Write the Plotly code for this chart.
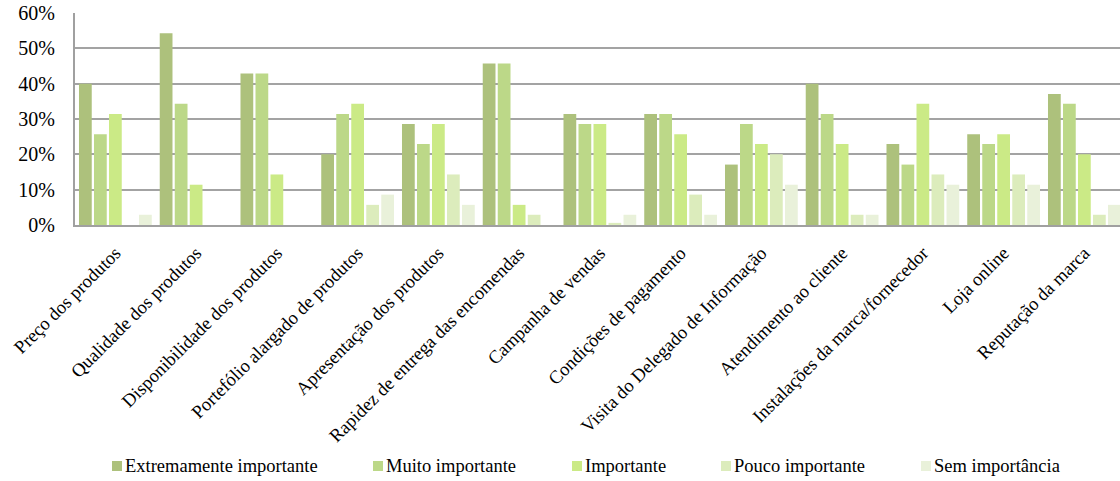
import plotly.graph_objects as go

# Survey: importance of each factor (percentage of respondents)
categories = [
    "Preço dos produtos",
    "Qualidade dos produtos",
    "Disponibilidade dos produtos",
    "Portefólio alargado de produtos",
    "Apresentação dos produtos",
    "Rapidez de entrega das encomendas",
    "Campanha de vendas",
    "Condições de pagamento",
    "Visita do Delegado de Informação",
    "Atendimento ao cliente",
    "Instalações da marca/fornecedor",
    "Loja online",
    "Reputação da marca",
]

series_names = [
    "Extremamente importante",
    "Muito importante",
    "Importante",
    "Pouco importante",
    "Sem importância",
]

extremamente = [40.0, 54.3, 42.9, 20.0, 28.6, 45.7, 31.4, 31.4, 17.1, 40.0, 22.9, 25.7, 37.1]
muito = [25.7, 34.3, 42.9, 31.4, 22.9, 45.7, 28.6, 31.4, 28.6, 31.4, 17.1, 22.9, 34.3]
importante = [31.4, 11.4, 14.3, 34.3, 28.6, 5.7, 28.6, 25.7, 22.9, 22.9, 34.3, 25.7, 20.0]
pouco = [0.0, 0.0, 0.0, 5.7, 14.3, 2.9, 0.6, 8.6, 20.0, 2.9, 14.3, 14.3, 2.9]
sem = [2.9, 0.0, 0.0, 8.6, 5.7, 0.0, 2.9, 2.9, 11.4, 2.9, 11.4, 11.4, 5.7]

y_ticks = [0, 10, 20, 30, 40, 50, 60]

series_values = [extremamente, muito, importante, pouco, sem]
colors = ["#adc17c", "#bcd888", "#cbea86", "#dcecbc", "#e9f1da"]

FONT = "Liberation Serif"
W, H = 1120, 481
L, R, T, B = 75, 0, 13, 256
plot_w = W - L - R
plot_h = H - T - B
slot_px = 80.75  # width of one category on the x axis

fig = go.Figure()
for name, vals, col in zip(series_names, series_values, colors):
    fig.add_trace(go.Bar(
        x=categories, y=vals, name=name,
        marker=dict(color=col, line=dict(width=0)),
        showlegend=False,
        hovertemplate="%{x}<br>" + name + ": %{y:.1f}%<extra></extra>",
    ))

# hand-placed legend row beneath the rotated category labels
legend_px = [112, 373, 572, 721, 921]
legend_y_px = 466
def px_x(px):
    return (px - L) / plot_w
def px_y(py):
    return (T + plot_h - py) / plot_h

shapes = []
annotations = []
for name, col, lx in zip(series_names, colors, legend_px):
    shapes.append(dict(
        type="rect", xref="paper", yref="paper",
        x0=px_x(lx), x1=px_x(lx + 10),
        y0=px_y(legend_y_px + 5), y1=px_y(legend_y_px - 5),
        fillcolor=col, line=dict(width=0),
    ))
    annotations.append(dict(
        text=name, xref="paper", yref="paper",
        x=px_x(lx + 11), y=px_y(legend_y_px),
        xanchor="left", yanchor="middle", showarrow=False,
        font=dict(family=FONT, size=18.5, color="#000000"),
    ))

fig.update_layout(
    width=W, height=H,
    margin=dict(l=L, r=R, t=T, b=B, pad=0),
    paper_bgcolor="white", plot_bgcolor="white",
    barmode="group", bargap=0.071, bargroupgap=0.15,
    font=dict(family=FONT, size=18.5, color="#000000"),
    shapes=shapes, annotations=annotations,
)
fig.update_xaxes(
    range=[-0.5, -0.5 + plot_w / slot_px],
    tickangle=-45,
    tickfont=dict(family=FONT, size=18.5, color="#000000"),
    showgrid=False, showline=True, linecolor="#a0a0a0", linewidth=2,
    ticks="", ticklabelstandoff=8, fixedrange=True,
)
# invisible outside ticks keep the percentage labels clear of the axis line
fig.update_yaxes(
    range=[0, 60], tickvals=y_ticks, ticktext=[f"{v}%" for v in y_ticks],
    tickfont=dict(family=FONT, size=20, color="#000000"),
    showgrid=True, gridcolor="#a3a3a3", gridwidth=2,
    showline=True, linecolor="#a0a0a0", linewidth=2,
    zeroline=False, ticks="outside", ticklen=14, tickcolor="rgba(0,0,0,0)",
    fixedrange=True,
)

fig.write_html("out.html")
